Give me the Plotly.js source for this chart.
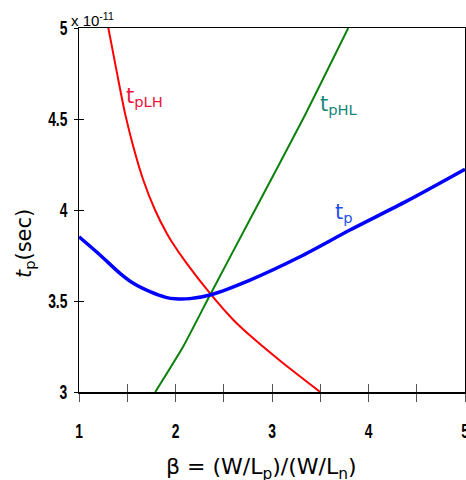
<!DOCTYPE html>
<html>
<head>
<meta charset="utf-8">
<script src="https://cdn.plot.ly/plotly-3.0.1.min.js"></script>
<style>
  html, body { margin: 0; padding: 0; background: #fff; overflow: hidden; }
  #chart { width: 466px; height: 480px; }
</style>
</head>
<body>
<div id="chart"></div>
<script>
// Propagation delay vs. PMOS/NMOS sizing ratio beta
const betaLH = [1.304, 1.391, 1.477, 1.563, 1.666, 1.788, 1.909, 1.961, 2.116, 2.358, 2.60, 2.806, 3.10, 3.50];
const tpLH   = [5.0e-11, 4.76e-11, 4.531e-11, 4.348e-11, 4.165e-11, 4.0e-11, 3.872e-11, 3.826e-11, 3.707e-11, 3.542e-11, 3.396e-11, 3.295e-11, 3.165e-11, 3.0e-11];

const betaHL = [1.79, 2.08, 2.358, 2.80, 3.325, 3.79];
const tpHL   = [3.0e-11, 3.25e-11, 3.533e-11, 3.977e-11, 4.504e-11, 5.0e-11];

const betaP = [1.0, 1.218, 1.425, 1.563, 1.736, 1.9, 2.0, 2.15, 2.358, 2.772, 3.29, 3.808, 4.40, 5.0];
const tp    = [3.853e-11, 3.753e-11, 3.652e-11, 3.597e-11, 3.551e-11, 3.52e-11, 3.512e-11, 3.513e-11, 3.533e-11, 3.615e-11, 3.743e-11, 3.89e-11, 4.05e-11, 4.224e-11];

const xTickVals = [1, 2, 3, 4, 5];
const xTickText = ['1', '2', '3', '4', '5'];
const yTickVals = [3e-11, 3.5e-11, 4e-11, 4.5e-11, 5e-11];
const yTickText = ['3', '3.5', '4', '4.5', '5'];

const tickFont = { family: 'Liberation Sans, Arial, sans-serif', size: 21, color: '#000', weight: 'bold' };
const labelFont = 'DejaVu Sans, Verdana, sans-serif';
const TICK_SCALE_X = 0.66;   // narrow, condensed look for tick numbers

const traces = [
  { x: betaLH, y: tpLH, mode: 'lines', line: { color: '#ff0000', width: 2, shape: 'spline', smoothing: 0.8 }, hoverinfo: 'skip' },
  { x: betaHL, y: tpHL, mode: 'lines', line: { color: '#0a820a', width: 2, shape: 'spline', smoothing: 0.5 }, hoverinfo: 'skip' },
  { x: betaP,  y: tp,   mode: 'lines', line: { color: '#0000ff', width: 3.5, shape: 'spline', smoothing: 0.8 }, hoverinfo: 'skip' },
  // invisible trace carrying the inward half of the tick marks
  { x: [1], y: [3e-11], xaxis: 'x2', yaxis: 'y2', mode: 'markers', marker: { opacity: 0 }, hoverinfo: 'skip' }
];

const layout = {
  width: 466, height: 480,
  margin: { l: 79, r: 1, t: 28, b: 88 },
  paper_bgcolor: '#fff', plot_bgcolor: '#fff',
  showlegend: false,
  xaxis: {
    range: [1, 5], tickvals: xTickVals, ticktext: xTickText,
    ticks: 'outside', ticklen: 8, tickwidth: 1, tickcolor: '#555',
    minor: { dtick: 0.5, tick0: 1, ticks: 'outside', ticklen: 8, tickwidth: 1, tickcolor: '#555', showgrid: false },
    ticklabelstandoff: 11, ticklabeloverflow: 'allow',
    showline: true, linecolor: '#000', linewidth: 1.5, mirror: true,
    showgrid: false, zeroline: false, tickfont: tickFont
  },
  yaxis: {
    range: [3e-11, 5e-11], tickvals: yTickVals, ticktext: yTickText,
    ticks: 'outside', ticklen: 4, tickwidth: 1, tickcolor: '#000',
    ticklabelstandoff: 2, ticklabeloverflow: 'allow',
    showline: true, linecolor: '#000', linewidth: 1.5, mirror: true,
    showgrid: false, zeroline: false, tickfont: tickFont
  },
  xaxis2: {
    overlaying: 'x', range: [1, 5], tick0: 1, dtick: 0.5, showticklabels: false,
    ticks: 'inside', ticklen: 8, tickwidth: 1, tickcolor: '#555',
    showline: false, showgrid: false, zeroline: false, side: 'bottom'
  },
  yaxis2: {
    overlaying: 'y', range: [3e-11, 5e-11], tickvals: yTickVals, showticklabels: false,
    ticks: 'inside', ticklen: 5, tickwidth: 1, tickcolor: '#000',
    showline: false, showgrid: false, zeroline: false, side: 'left'
  },
  annotations: [
    { xref: 'paper', yref: 'paper', x: -0.024, y: 1, xanchor: 'left', yanchor: 'bottom', xshift: -1, yshift: -3,
      text: 'x 10<sup>-11</sup>', showarrow: false, font: { family: 'Liberation Sans, Arial, sans-serif', size: 15, color: '#000' } },
    { xref: 'paper', yref: 'paper', x: -0.14, y: 0.409, xanchor: 'center', yanchor: 'middle',
      textangle: -90, text: '<i>t</i><sub>p</sub>(sec)', showarrow: false,
      font: { family: labelFont, size: 21, color: '#000' } },
    { xref: 'paper', yref: 'paper', x: 0.474, y: 0, xanchor: 'center', yanchor: 'middle', yshift: -76,
      text: 'β = (W/L<sub>p</sub>)/(W/L<sub>n</sub>)', showarrow: false,
      font: { family: labelFont, size: 22, color: '#000' } },
    { x: 1.463, y: 4.621e-11, xanchor: 'left', yanchor: 'middle',
      text: 't<sub>pLH</sub>', showarrow: false, font: { family: labelFont, size: 21, color: '#f0143c' } },
    { x: 3.475, y: 4.577e-11, xanchor: 'left', yanchor: 'middle',
      text: 't<sub>pHL</sub>', showarrow: false, font: { family: labelFont, size: 21, color: '#16877a' } },
    { x: 3.633, y: 3.984e-11, xanchor: 'left', yanchor: 'middle',
      text: 't<sub>p</sub>', showarrow: false, font: { family: labelFont, size: 21, color: '#1f4fe8' } }
  ]
};

// Squeeze tick numbers horizontally about their anchor point
function condenseTickLabels(gd) {
  gd.querySelectorAll('.xtick text, .ytick text').forEach(function (t) {
    if (!t.textContent) return;
    let base = t.getAttribute('data-base-transform');
    if (base === null) {
      base = t.getAttribute('transform') || '';
      t.setAttribute('data-base-transform', base);
    }
    const bb = t.getBBox();
    const anchor = t.getAttribute('text-anchor');
    const ax = anchor === 'end' ? bb.x + bb.width : (anchor === 'start' ? bb.x : bb.x + bb.width / 2);
    t.setAttribute('transform', base + ' translate(' + ax + ',0) scale(' + TICK_SCALE_X + ',1) translate(' + (-ax) + ',0)');
  });
}

const gd = document.getElementById('chart');
Plotly.newPlot(gd, traces, layout, { staticPlot: true, displayModeBar: false }).then(function () {
  condenseTickLabels(gd);
  gd.on('plotly_afterplot', function () { condenseTickLabels(gd); });
});
</script>
</body>
</html>
